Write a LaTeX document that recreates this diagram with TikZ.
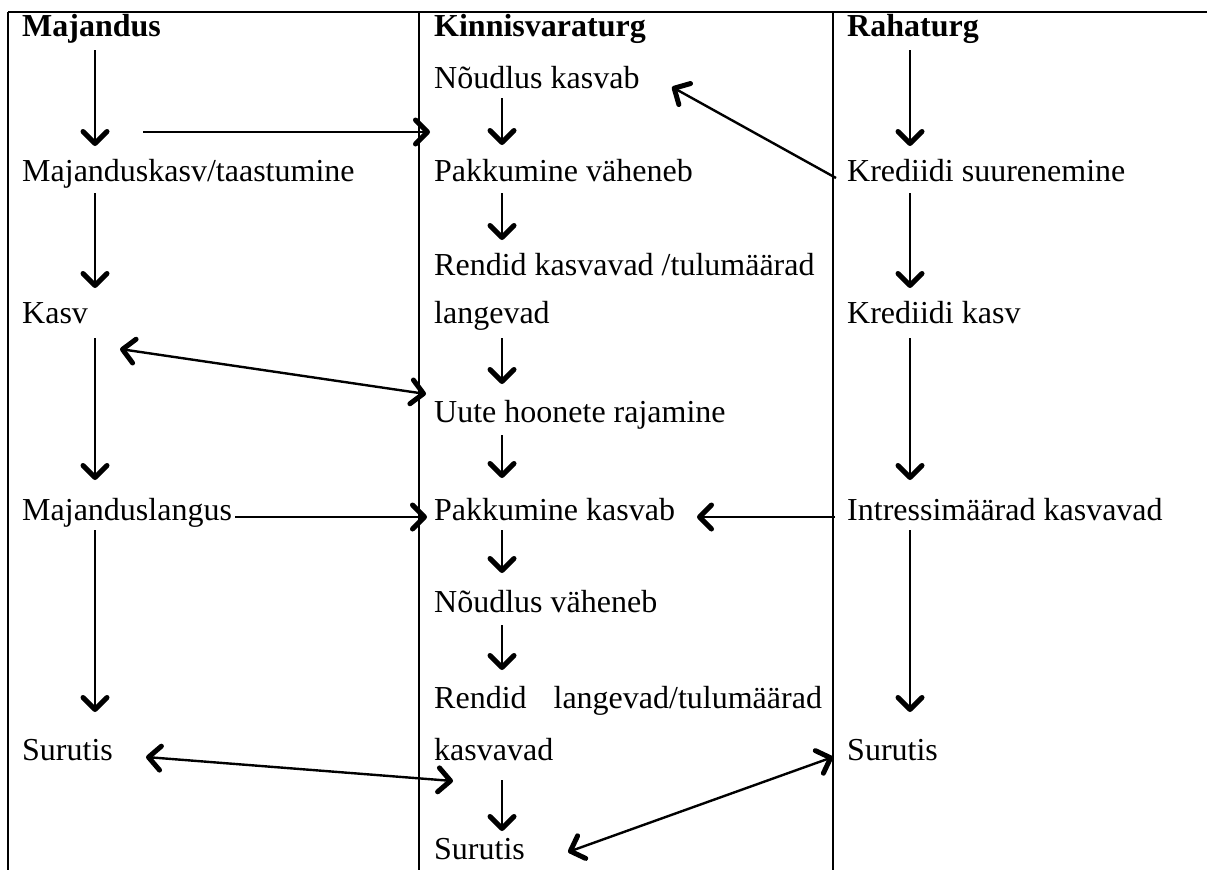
\documentclass[tikz,border=0pt]{standalone}
\usepackage{fontspec}
\setmainfont{Liberation Serif}
\usetikzlibrary{arrows.meta,calc}
\begin{document}
\begin{tikzpicture}[x=1pt,y=-1pt,
  txt/.style={anchor=base west,inner sep=0pt,font=\fontsize{32}{38}\selectfont},
  hdr/.style={txt,font=\fontsize{32}{38}\selectfont\bfseries},
  arr/.style={line width=2.4pt,-{Straight Barb[length=12pt,width=24pt,line width'=5pt,round]}},
  darr/.style={line width=2.4pt,{Straight Barb[length=12pt,width=24pt,line width'=5pt,round]}-{Straight Barb[length=12pt,width=24pt,line width'=5pt,round]}},
  rulethick/.style={line width=2pt},
  rulethin/.style={line width=1.6pt}]
\useasboundingbox (0,0) rectangle (1207,870);
% table rules
\coordinate (tl) at (8,12);
\coordinate (tr) at (1207,12);
\coordinate (bl) at (8,870);
\coordinate (v1t) at (419,12);
\coordinate (v1b) at (419,870);
\coordinate (v2t) at (833,12);
\coordinate (v2b) at (833,870);
\draw[rulethick] (tl) -- (tr);
\draw[rulethick] (tl) -- (bl);
\draw[rulethin] (v1t) -- (v1b);
\draw[rulethin] (v2t) -- (v2b);
% column axes
\coordinate (cL) at (95,0);
\coordinate (cK) at (502,0);
\coordinate (cR) at (910,0);
% headers
\node[hdr] (h1) at (22,36) {Majandus};
\node[hdr] (h2) at (434,36) {Kinnisvaraturg};
\node[hdr] (h3) at (847,36) {Rahaturg};
% Majandus column
\node[txt] (m1) at (22,181) {Majanduskasv/taastumine};
\node[txt] (m2) at (22,323) {Kasv};
\node[txt] (m3) at (22,520) {Majanduslangus};
\node[txt] (m4) at (22,760) {Surutis};
% Kinnisvaraturg column
\node[txt] (k1) at (434,88) {Nõudlus kasvab};
\node[txt] (k2) at (434,181) {Pakkumine väheneb};
\node[txt] (k3) at (434,275) {Rendid kasvavad /tulumäärad};
\node[txt] (k4) at (434,323) {langevad};
\node[txt] (k5) at (434,422) {Uute hoonete rajamine};
\node[txt] (k6) at (434,520) {Pakkumine kasvab};
\node[txt] (k7) at (434,612) {Nõudlus väheneb};
\node[txt] (k8) at (434,708) {Rendid\hspace{27pt}langevad/tulumäärad};
\node[txt] (k9) at (434,760) {kasvavad};
\node[txt] (k10) at (434,859) {Surutis};
% Rahaturg column
\node[txt] (r1) at (847,181) {Krediidi suurenemine};
\node[txt] (r2) at (847,323) {Krediidi kasv};
\node[txt] (r3) at (847,520) {Intressimäärad kasvavad};
\node[txt] (r4) at (847,760) {Surutis};
% vertical arrows, Majandus
\draw[arr] ($(h1.base -| cL)+(0,14)$) -- ($(m1.base -| cL)+(0,-35)$);
\draw[arr] ($(m1.base -| cL)+(0,12)$) -- ($(m2.base -| cL)+(0,-35)$);
\draw[arr] ($(m2.base -| cL)+(0,15)$) -- ($(m3.base -| cL)+(0,-40)$);
\draw[arr] ($(m3.base -| cL)+(0,10)$) -- ($(m4.base -| cL)+(0,-48)$);
% vertical arrows, Kinnisvaraturg
\draw[arr] ($(k1.base -| cK)+(0,10)$) -- ($(k2.base -| cK)+(0,-36)$);
\draw[arr] ($(k2.base -| cK)+(0,12)$) -- ($(k3.base -| cK)+(0,-35)$);
\draw[arr] ($(k4.base -| cK)+(0,15)$) -- ($(k5.base -| cK)+(0,-38)$);
\draw[arr] ($(k5.base -| cK)+(0,13)$) -- ($(k6.base -| cK)+(0,-42)$);
\draw[arr] ($(k6.base -| cK)+(0,10)$) -- ($(k7.base -| cK)+(0,-39)$);
\draw[arr] ($(k7.base -| cK)+(0,13)$) -- ($(k8.base -| cK)+(0,-38)$);
\draw[arr] ($(k9.base -| cK)+(0,20)$) -- ($(k10.base -| cK)+(0,-28)$);
% vertical arrows, Rahaturg
\draw[arr] ($(h3.base -| cR)+(0,14)$) -- ($(r1.base -| cR)+(0,-35)$);
\draw[arr] ($(r1.base -| cR)+(0,12)$) -- ($(r2.base -| cR)+(0,-35)$);
\draw[arr] ($(r2.base -| cR)+(0,15)$) -- ($(r3.base -| cR)+(0,-40)$);
\draw[arr] ($(r3.base -| cR)+(0,10)$) -- ($(r4.base -| cR)+(0,-48)$);
% cross arrows
\draw[arr] ($(m1.base west)+(121,-49)$) -- ($(k1.base west)+(-4,44)$);
\draw[arr] ($(r1.base west)+(-11,-3)$) -- ($(k1.base west)+(238,-1)$);
\draw[darr] ($(m2.base west)+(98,26)$) -- ($(k5.base west)+(-8,-28)$);
\draw[arr] ($(m3.base east)+(3,-3)$) -- ($(k6.base west)+(-7,-3)$);
\draw[arr] ($(r3.base west)+(-12,-3)$) -- ($(k6.base west)+(263,-3)$);
\draw[darr] ($(m4.base west)+(124,-3)$) -- ($(k9.base west)+(19,21)$);
\draw[darr] ($(k10.base west)+(134,-7)$) -- ($(r4.base west)+(-14,-3)$);
\end{tikzpicture}
\end{document}
